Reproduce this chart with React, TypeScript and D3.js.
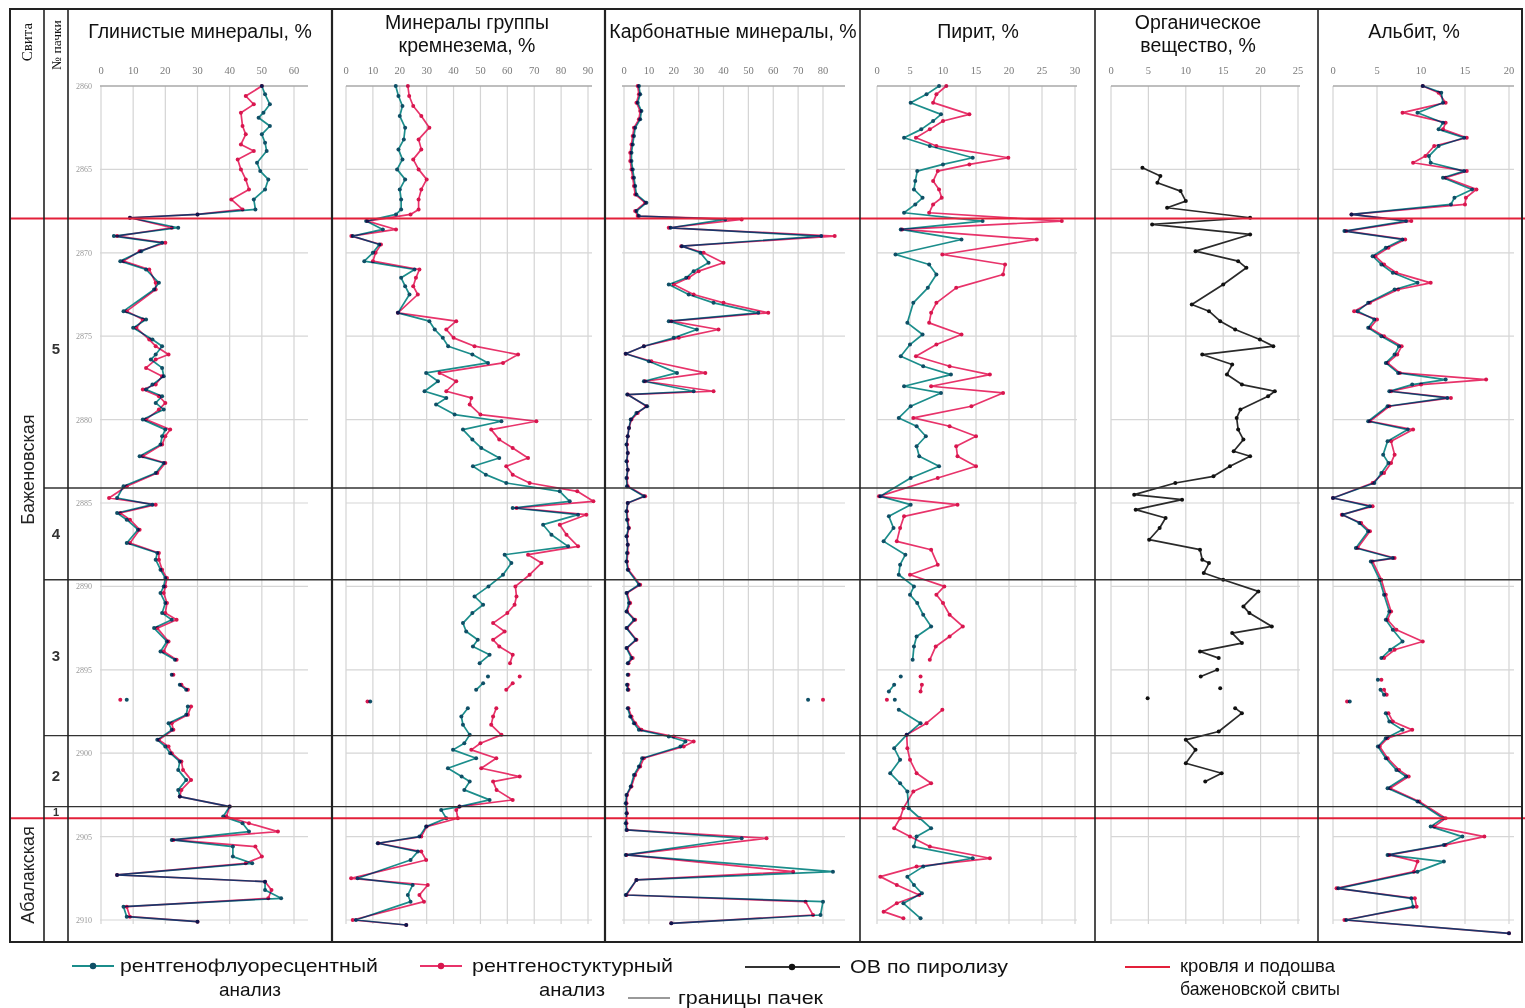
import React from "react";
import * as d3 from "d3";

type Pt = [number, number | null];
const B: Pt = [0, null];

// ---------- axes / ticks ----------
const depthTicks = [2860, 2865, 2870, 2875, 2880, 2885, 2890, 2895, 2900, 2905, 2910];
const clayTicks = [0, 10, 20, 30, 40, 50, 60];
const silicaTicks = [0, 10, 20, 30, 40, 50, 60, 70, 80, 90];
const carbTicks = [0, 10, 20, 30, 40, 50, 60, 70, 80];
const pyriteTicks = [0, 5, 10, 15, 20, 25, 30];
const obTicks = [0, 5, 10, 15, 20, 25];
const albiteTicks = [0, 5, 10, 15, 20];

// ---------- boundaries ----------
const bazhenovBounds = [2867.95, 2903.9];
const packBounds = [2884.1, 2889.6, 2898.95, 2903.2];
const formationLabels = [
  { name: "Баженовская", depth: 2883.0 },
  { name: "Абалакская", depth: 2907.3 },
];
const packLabels = [
  { name: "5", depth: 2875.7 },
  { name: "4", depth: 2886.8 },
  { name: "3", depth: 2894.1 },
  { name: "2", depth: 2901.3 },
  { name: "1", depth: 2903.55 },
];

// ---------- Clay minerals ----------
const clayXRF: Pt[] = [
  [2860.0, 50], [2860.5, 51], [2861.1, 52.5], [2861.6, 50.5], [2861.9, 49], [2862.4, 52.5], [2862.9, 50], [2863.4, 51],
  [2863.9, 51.5], [2864.6, 48.5], [2865.1, 49.5], [2865.6, 52], [2866.2, 51], [2866.8, 47.5], [2867.4, 48], [2867.7, 30],
  [2867.9, 9], [2868.5, 24], [2869.0, 4], [2869.4, 19], [2869.9, 12.5], [2870.5, 6], [2871.0, 14], [2871.8, 18],
  [2872.2, 16.5], [2873.5, 7], [2874.0, 14], [2874.5, 10], [2875.2, 16], [2875.6, 19], [2876.1, 17], [2876.4, 15.5],
  [2876.9, 19], [2877.4, 19.5], [2877.9, 16], [2878.2, 14], [2878.6, 19], [2879.0, 17], [2879.4, 19.5], [2880.0, 13],
  [2880.6, 20], [2881.0, 19], [2881.5, 18.5], [2882.2, 12], [2882.6, 19.5], [2883.2, 17], [2884.0, 7], [2884.7, 5],
  [2885.1, 16], [2885.6, 5], [2886.0, 8], [2886.6, 11.5], [2887.4, 8], [2888.0, 17.5], [2888.4, 17], [2889.0, 18.5],
  [2889.5, 20], [2890.0, 19.5], [2890.4, 18.5], [2891.0, 20], [2891.6, 19], [2892.0, 22], [2892.5, 16.5], [2893.3, 20.5],
  [2893.9, 18.5], [2894.4, 23], B, [2895.3, 22], B, [2895.9, 24.5], [2896.2, 26.5], B, [2896.8, 8], B,
  [2897.2, 27], [2897.7, 26.5], [2898.2, 21], [2898.6, 22], [2899.2, 17.5], [2899.6, 20], [2900.0, 21.5], [2900.5, 24.5],
  [2901.0, 24], [2901.6, 26.5], [2902.2, 24], [2902.6, 24.5], [2903.2, 40], [2903.8, 38], [2904.2, 44], [2904.7, 46],
  [2905.2, 22], [2905.6, 41], [2906.2, 41], [2906.6, 47], [2907.3, 5], [2907.7, 51], [2908.2, 51], [2908.7, 56],
  [2909.2, 7], [2909.8, 8], [2910.1, 30],
];
const clayXRD: Pt[] = [
  [2860.0, 50], [2860.6, 45], [2861.1, 47.5], [2861.6, 43.5], [2862.4, 44], [2862.9, 45], [2863.5, 43.5], [2863.9, 47.5],
  [2864.4, 42.5], [2865.0, 43.5], [2865.6, 45], [2866.2, 46], [2866.8, 40.5], [2867.4, 44], [2867.7, 30],
  [2867.9, 9], [2868.5, 22], [2869.0, 5], [2869.4, 20], [2869.9, 12], [2870.5, 7], [2871.0, 15], [2871.8, 17],
  [2872.2, 17], [2873.5, 8], [2874.0, 13], [2874.5, 11], [2875.2, 15], [2875.6, 17], [2876.1, 21], [2876.4, 17],
  [2876.9, 14], [2877.4, 19], [2877.9, 17], [2878.2, 13], [2878.6, 18], [2879.0, 20], [2879.4, 18], [2880.0, 14],
  [2880.6, 21.5], [2881.0, 20], [2881.5, 19], [2882.2, 13], [2882.6, 20], [2883.2, 17.5], [2884.0, 8], [2884.7, 2.5],
  [2885.1, 17], [2885.6, 6], [2886.0, 9], [2886.6, 12], [2887.4, 9], [2888.0, 18], [2888.4, 18], [2889.0, 19],
  [2889.5, 20.5], [2890.0, 20], [2890.4, 19.5], [2891.0, 20.5], [2891.6, 20], [2892.0, 23.5], [2892.5, 17.5], [2893.3, 21],
  [2893.9, 19.5], [2894.4, 23.5], B, [2895.3, 22.5], B, [2895.9, 25], [2896.2, 27], B, [2896.8, 6], B,
  [2897.2, 28], [2897.7, 27], [2898.2, 22], [2898.6, 22.5], [2899.2, 18], [2899.6, 21], [2900.0, 22], [2900.5, 25],
  [2901.0, 25.5], [2901.6, 28], [2902.2, 25], [2902.6, 24.5], [2903.2, 40], [2903.8, 39], [2904.2, 46], [2904.7, 55],
  [2905.2, 22.5], [2905.6, 48], [2906.2, 50], [2906.6, 45], [2907.3, 5], [2907.7, 51], [2908.2, 53], [2908.7, 52],
  [2909.2, 8], [2909.8, 9], [2910.1, 30],
];

// ---------- Silica group ----------
const silicaXRF: Pt[] = [
  [2860.0, 18.5], [2860.6, 19.5], [2861.2, 21], [2861.8, 20], [2862.5, 22], [2863.2, 21.5], [2863.8, 19.5], [2864.4, 21],
  [2865.0, 19], [2865.6, 22], [2866.2, 20], [2866.8, 20.5], [2867.4, 20.5], [2867.7, 18.6], [2868.1, 7.5], [2868.6, 13.7],
  [2869.0, 2.5], [2869.5, 12.4], [2870.0, 10], [2870.5, 6.8], [2871.0, 25.5], [2871.5, 20.5], [2872.0, 22], [2872.5, 23.6],
  [2873.6, 19.3], [2874.1, 31], [2874.6, 33], [2875.1, 36], [2875.6, 38], [2876.1, 47], [2876.6, 52.8], [2877.2, 29.8],
  [2877.7, 34.2], [2878.3, 29.2], [2878.7, 37.3], [2879.1, 33.5], [2879.7, 40.4], [2880.1, 57.8], [2880.6, 43.5], [2881.2, 47],
  [2881.7, 50.3], [2882.3, 57], [2882.8, 47.2], [2883.3, 52], [2883.8, 59.6], [2884.3, 79.5], [2884.9, 83.2], [2885.3, 62],
  [2885.7, 86.3], [2886.3, 73.3], [2886.9, 76.4], [2887.6, 82.6], [2888.1, 59], [2888.6, 61.5], [2889.3, 58.4], [2890.0, 53],
  [2890.6, 47.8], [2891.1, 51], [2891.6, 47], [2892.2, 43.5], [2892.7, 44.7], [2893.2, 49], [2893.6, 47.2], [2894.1, 53.4],
  [2894.6, 49.7], B, [2895.4, 52.8], B, [2895.8, 51], [2896.2, 48.4], B, [2896.9, 9], B,
  [2897.3, 45.3], [2897.8, 42.9], [2898.3, 43.5], [2898.9, 46], [2899.4, 44], [2899.8, 39.8], [2900.3, 48.4], [2900.9, 37.9],
  [2901.4, 43], [2901.7, 46], [2902.2, 44], [2902.8, 53.4], [2903.2, 42.2], [2903.4, 35.4], [2903.9, 37.3], [2904.4, 29.8],
  [2905.0, 27.3], [2905.4, 11.8], [2905.9, 26.7], [2906.4, 24], [2907.5, 4.3], [2907.9, 24.8], [2908.5, 23], [2908.9, 24],
  [2910.0, 3.7], [2910.3, 22.4],
];
const silicaXRD: Pt[] = [
  [2860.0, 23], [2860.6, 23.5], [2861.2, 25], [2861.8, 28], [2862.5, 31], [2863.2, 27], [2863.8, 28], [2864.4, 25],
  [2865.0, 27], [2865.6, 30], [2866.2, 28], [2866.8, 27], [2867.4, 27], [2867.7, 24], [2868.1, 8], [2868.6, 18.6],
  [2869.0, 2], [2869.5, 13], [2870.0, 11], [2870.5, 10], [2871.0, 27.3], [2871.5, 26], [2872.0, 25], [2872.5, 26.7],
  [2873.6, 19.3], [2874.1, 41], [2874.6, 37.3], [2875.1, 40], [2875.6, 47.8], [2876.1, 64], [2876.6, 58.4], [2877.2, 34.8],
  [2877.7, 41], [2878.3, 37.3], [2878.7, 46.6], [2879.1, 46], [2879.7, 50], [2880.1, 70.8], [2880.6, 54], [2881.2, 57],
  [2881.7, 62], [2882.3, 67.7], [2882.8, 59.6], [2883.3, 62], [2883.8, 68.3], [2884.3, 86], [2884.9, 92], [2885.3, 63.4],
  [2885.7, 89.4], [2886.3, 79.5], [2886.9, 82], [2887.6, 86.3], [2888.1, 67.7], [2888.6, 72.7], [2889.3, 68.3], [2890.0, 63],
  [2890.6, 63.4], [2891.1, 62.7], [2891.6, 60], [2892.2, 54.7], [2892.7, 59], [2893.2, 54.7], [2893.6, 57], [2894.1, 62],
  [2894.6, 61], B, [2895.4, 64.6], B, [2895.8, 62], [2896.2, 59.6], B, [2896.9, 8], B,
  [2897.3, 55.9], [2897.8, 54.7], [2898.3, 54], [2898.9, 57.8], [2899.4, 50], [2899.8, 46.6], [2900.3, 55.9], [2900.9, 50.3],
  [2901.4, 64.6], [2901.7, 54.7], [2902.2, 56], [2902.8, 62], [2903.2, 42.2], [2903.4, 41], [2903.9, 41.6], [2904.4, 30],
  [2905.0, 28], [2905.4, 12], [2905.9, 28], [2906.4, 29.8], [2907.5, 1.9], [2907.9, 30.4], [2908.5, 27.3], [2908.9, 29],
  [2910.0, 2.5], [2910.3, 22.4],
];

// ---------- Carbonate minerals ----------
const carbXRF: Pt[] = [
  [2860.0, 6], [2860.5, 6.5], [2861.0, 5.5], [2861.5, 7], [2862.0, 6.5], [2862.5, 4.5], [2863.0, 4], [2863.5, 3.5],
  [2864.0, 3], [2864.5, 3], [2865.0, 3.5], [2865.5, 4], [2866.0, 4.5], [2866.5, 5], [2867.0, 9], [2867.5, 5], [2867.8, 6],
  [2868.0, 40.7], [2868.5, 18.7], [2869.0, 79.3], [2869.6, 23.3], [2870.0, 30.7], [2870.6, 34], [2871.1, 28], [2871.5, 25],
  [2871.9, 18], [2872.5, 26], [2873.0, 36], [2873.6, 54], [2874.1, 18], [2874.6, 29.3], [2875.1, 20], [2875.6, 8],
  [2876.05, 0.7], [2876.5, 10], [2877.2, 21.3], [2877.7, 8], [2878.3, 28], [2878.5, 1.3], [2879.2, 9.3], [2879.6, 5],
  [2880.0, 2.7], [2880.5, 2], [2881.0, 1.5], [2881.5, 1], [2882.0, 1.5], [2882.5, 1], [2883.0, 1.5], [2883.5, 1],
  [2884.0, 1.2], [2884.6, 8], [2885.0, 1.5], [2885.5, 1], [2886.0, 1.2], [2886.5, 1.8], [2887.0, 1], [2887.5, 1.5],
  [2888.0, 1.2], [2888.5, 1], [2889.0, 1.5], [2889.9, 6], [2890.4, 1], [2891.0, 2], [2891.5, 1], [2892.0, 4],
  [2892.5, 1], [2893.2, 4.7], [2893.7, 1], [2894.3, 3], [2894.6, 1.5], B, [2895.3, 1.5], B, [2895.9, 1.2], [2896.2, 1.5], B,
  [2896.8, 74], B,
  [2897.3, 1.5], [2897.8, 2.5], [2898.2, 4], [2898.6, 6], [2899.0, 18], [2899.3, 24.7], [2899.6, 22.7], [2900.3, 7.3],
  [2900.8, 6], [2901.3, 4], [2902.0, 2.7], [2902.5, 1], [2903.0, 0.7], [2903.6, 1], [2904.2, 0.7], [2904.6, 1],
  [2905.1, 47.3], [2906.1, 0.7], [2907.1, 84], [2907.6, 5], [2908.5, 0.7], [2908.9, 80], [2909.7, 79], [2910.2, 19],
];
const carbXRD: Pt[] = [
  [2860.0, 5.5], [2860.5, 6], [2861.0, 5], [2861.5, 6.5], [2862.0, 6], [2862.5, 4], [2863.0, 3.5], [2863.5, 3],
  [2864.0, 2.5], [2864.5, 2.5], [2865.0, 3], [2865.5, 3.5], [2866.0, 4], [2866.5, 4.5], [2867.0, 8.5], [2867.5, 4.5], [2867.8, 5.5],
  [2868.0, 47.3], [2868.5, 18], [2869.0, 84.7], [2869.6, 23], [2870.0, 32], [2870.6, 40], [2871.1, 30], [2871.5, 26],
  [2871.9, 20], [2872.5, 28], [2873.0, 40], [2873.6, 58], [2874.1, 19], [2874.6, 38], [2875.1, 22], [2875.6, 8],
  [2876.05, 0.7], [2876.5, 11], [2877.2, 32.7], [2877.7, 8.5], [2878.3, 36], [2878.5, 1.5], [2879.2, 9], [2879.6, 5.5],
  [2880.0, 3], [2880.5, 2], [2881.0, 1.5], [2881.5, 1.2], [2882.0, 1.5], [2882.5, 1.2], [2883.0, 1.5], [2883.5, 1.2],
  [2884.0, 1.5], [2884.6, 8.5], [2885.0, 1.5], [2885.5, 1.2], [2886.0, 1.5], [2886.5, 2], [2887.0, 1.2], [2887.5, 1.5],
  [2888.0, 1.5], [2888.5, 1.2], [2889.0, 1.8], [2889.9, 6.5], [2890.4, 1.2], [2891.0, 2.5], [2891.5, 1.2], [2892.0, 4.5],
  [2892.5, 1.2], [2893.2, 5], [2893.7, 1.2], [2894.3, 3.5], [2894.6, 1.8], B, [2895.3, 1.8], B, [2895.9, 1.5], [2896.2, 1.8], B,
  [2896.8, 80], B,
  [2897.3, 1.8], [2897.8, 3], [2898.2, 4.5], [2898.6, 7], [2899.0, 20], [2899.3, 28], [2899.6, 24], [2900.3, 8],
  [2900.8, 6.5], [2901.3, 4.5], [2902.0, 3], [2902.5, 1.2], [2903.0, 1], [2903.6, 1.2], [2904.2, 1], [2904.6, 1.2],
  [2905.1, 57.3], [2906.1, 1], [2907.1, 68], [2907.6, 5], [2908.5, 1], [2908.9, 73], [2909.7, 76], [2910.2, 19],
];

// ---------- Pyrite ----------
const pyriteXRF: Pt[] = [
  [2860.0, 9.4], [2860.5, 7.5], [2861.0, 5.1], [2861.7, 9.7], [2862.1, 8.5], [2862.6, 6.7], [2863.1, 4.1], [2863.6, 8],
  [2864.3, 14.5], [2864.7, 10], [2865.1, 6.1], [2865.7, 5.8], [2866.2, 5.6], [2866.7, 6.9], [2867.1, 5.8], [2867.6, 4.1],
  [2868.1, 16], [2868.6, 3.6], [2869.2, 12.8], [2870.1, 2.8], [2870.7, 7.9], [2871.3, 9], [2872.1, 7.7], [2873.0, 5.5],
  [2874.2, 4.6], [2874.9, 6.9], [2875.5, 5], [2876.2, 3.6], [2876.8, 7], [2877.3, 11.2], [2878.0, 4.1], [2878.4, 9.7],
  [2879.2, 5.1], [2879.9, 3.3], [2880.4, 6], [2881.0, 7.4], [2881.6, 6], [2882.2, 6.4], [2882.8, 9.4], [2883.5, 5.1],
  [2884.6, 0.5], [2885.1, 5.1], [2885.8, 1.8], [2886.5, 2.5], [2887.3, 1], [2888.1, 4.3], [2888.7, 3.5], [2889.3, 3.3],
  [2890.0, 5.6], [2890.5, 5], [2891.0, 6.1], [2891.7, 7], [2892.4, 8.2], [2893.0, 6], [2893.6, 5.6], [2894.4, 5.4],
  B, [2895.4, 3.6], B, [2895.9, 2.6], [2896.3, 1.8], B, [2896.8, 2.7], B,
  [2897.4, 3.3], [2898.2, 6.6], [2898.9, 4.5], [2899.7, 2.6], [2900.4, 3.5], [2901.2, 2], [2901.8, 3.5], [2902.3, 4.6],
  [2903.3, 4.8], [2903.9, 6.5], [2904.5, 8.2], [2905.0, 6], [2905.6, 5.6], [2906.3, 14.5], [2906.8, 7], [2907.4, 4.6],
  [2907.9, 5.6], [2908.4, 6.8], [2909.0, 4], [2909.9, 6.6],
];
const pyriteXRD: Pt[] = [
  [2860.0, 10.5], [2860.5, 9], [2861.0, 8.5], [2861.7, 14], [2862.1, 10], [2862.6, 8], [2863.1, 5.9], [2863.6, 9],
  [2864.3, 19.9], [2864.7, 14], [2865.1, 9.2], [2865.7, 8.5], [2866.2, 9.4], [2866.7, 9.8], [2867.1, 8.5], [2867.6, 7.9],
  [2868.1, 28], [2868.6, 3.8], [2869.2, 24.2], [2870.1, 9.9], [2870.7, 19.4], [2871.3, 19.1], [2872.1, 12], [2873.0, 9],
  [2873.6, 8.2], [2874.2, 7.9], [2874.9, 12.8], [2875.5, 9], [2876.2, 5.9], [2876.8, 11], [2877.3, 17.1], [2878.0, 8.2],
  [2878.4, 19.1], [2879.2, 14.3], [2879.9, 5.5], [2880.4, 11], [2881.0, 15], [2881.6, 12], [2882.2, 12.2], [2882.8, 15],
  [2883.5, 9.2], [2884.6, 0.3], [2885.1, 12.2], [2885.8, 4.1], [2886.5, 3.5], [2887.3, 3], [2887.8, 8.2], [2888.7, 9.2],
  [2889.3, 5], [2890.0, 10.2], [2890.5, 9], [2891.0, 10], [2891.7, 11], [2892.4, 13], [2893.0, 11], [2893.6, 8.9],
  [2894.4, 8], B, [2895.4, 6.6], B, [2895.9, 6.8], [2896.3, 6.6], B, [2896.8, 1.5], B,
  [2897.4, 9.9], [2898.2, 7.5], [2898.9, 4.5], [2899.7, 4.6], [2900.4, 5], [2901.2, 6], [2901.8, 8.2], [2902.3, 5.5],
  [2903.3, 4], [2903.9, 3.5], [2904.5, 2.6], [2905.0, 5], [2905.6, 8], [2906.3, 17.1], [2906.8, 6], [2907.4, 0.5],
  [2907.9, 3], [2908.5, 6.4], [2909.0, 3], [2909.5, 1], [2909.9, 4],
];

// ---------- Organic matter (pyrolysis) ----------
const organicPyro: Pt[] = [
  [2864.9, 4.2], [2865.4, 6.6], [2865.8, 6.2], [2866.3, 9.3], [2866.9, 10], [2867.3, 7.5], [2867.9, 18.6], [2868.3, 5.5],
  [2868.9, 18.6], [2869.9, 11.3], [2870.5, 17], [2870.9, 18.1], [2871.9, 15], [2873.1, 10.8], [2873.5, 13.1], [2874.1, 14.6],
  [2874.6, 16.6], [2875.2, 19.9], [2875.6, 21.7], [2876.1, 12.2], [2876.7, 16.2], [2877.3, 15.5], [2877.9, 17.5], [2878.3, 21.9],
  [2878.6, 21], [2879.4, 17.3], [2879.9, 16.8], [2880.6, 17], [2881.2, 17.7], [2881.9, 16.4], [2882.2, 18.6], [2882.8, 15.9],
  [2883.4, 13.7], [2883.8, 8.6], [2884.5, 3.1], [2884.8, 9.5], [2885.4, 3.3], [2885.9, 7.3], [2886.5, 6.5], [2887.2, 5.1],
  [2887.8, 11.9], [2888.4, 12.2], [2888.6, 13.1], [2889.2, 12.4], [2889.6, 15], [2890.3, 19.7], [2891.2, 17.7], [2891.6, 18.5],
  [2892.4, 21.5], [2892.8, 16.2], [2893.4, 17.5], [2893.9, 11.9], [2894.3, 14.4], B, [2895.0, 14.2], [2895.4, 12], B,
  [2896.1, 14.6], B, [2896.7, 4.9], B, [2897.3, 16.6], [2897.6, 17.5], [2898.7, 14.4], [2899.2, 10], [2899.8, 11.3],
  [2900.6, 10], [2901.2, 14.8], [2901.7, 12.6],
];

// ---------- Albite ----------
const albiteXRF: Pt[] = [
  [2860.0, 10.2], [2860.4, 12.3], [2861.0, 12.5], [2861.6, 9.6], [2862.2, 12.5], [2862.6, 12], [2863.1, 14.9], [2863.6, 12],
  [2864.2, 10.9], [2864.6, 11.1], [2865.1, 14.9], [2865.5, 12.5], [2866.2, 15.8], [2866.7, 13.8], [2867.1, 13.4], [2867.7, 2.1],
  [2868.1, 8.3], [2868.7, 1.3], [2869.2, 7.9], [2869.7, 6], [2870.2, 4.5], [2870.7, 5.5], [2871.2, 6.8], [2871.8, 9.6],
  [2872.2, 7], [2873.0, 4], [2873.5, 2.8], [2874.0, 4.7], [2874.5, 4], [2875.0, 5.5], [2875.6, 7.5], [2876.1, 7],
  [2876.6, 6], [2877.2, 7.4], [2877.6, 12.8], [2877.9, 9], [2878.3, 6.4], [2878.7, 13], [2879.2, 6.2], [2880.1, 4],
  [2880.6, 8.5], [2881.3, 6.2], [2882.1, 5.7], [2882.6, 6.3], [2883.2, 5.5], [2883.8, 4.7], [2884.7, 0], [2885.2, 4.2],
  [2885.7, 1.1], [2886.2, 3], [2886.7, 4], [2887.7, 2.6], [2888.3, 6.8], [2888.5, 4.3], [2889.6, 5.3], [2890.5, 5.8],
  [2891.5, 6.4], [2892.0, 6], [2892.6, 6.8], [2893.3, 7.9], [2893.8, 6.5], [2894.3, 5.5], B, [2895.6, 5.1], B,
  [2896.2, 5.4], [2896.5, 5.8], B, [2896.9, 1.9], B, [2897.6, 6], [2898.1, 6.4], [2898.6, 7.9], [2899.1, 6],
  [2899.6, 5.1], [2900.3, 6], [2901.0, 7.2], [2901.4, 8.3], [2902.1, 6.2], [2902.9, 9.6], [2903.9, 12.5], [2904.4, 11.1],
  [2905.0, 14.7], [2905.5, 12.6], [2906.1, 6.2], [2906.5, 12.6], [2907.1, 9.6], [2908.1, 0.6], [2908.7, 8.9], [2909.2, 9.1],
  [2910.0, 1.5], [2910.8, 20],
];
const albiteXRD: Pt[] = [
  [2860.0, 10.2], [2860.4, 12], [2861.0, 12.8], [2861.6, 7.9], [2862.2, 12.8], [2862.6, 12.5], [2863.1, 15.2], [2863.6, 11.5],
  [2864.2, 10.5], [2864.6, 9.1], [2865.1, 15.2], [2865.5, 12.8], [2866.2, 16.3], [2866.7, 15.1], [2867.1, 15], [2867.7, 2.1],
  [2868.1, 8.9], [2868.7, 1.5], [2869.2, 8.2], [2869.7, 6.3], [2870.2, 4.8], [2870.7, 5.8], [2871.2, 7.2], [2871.8, 11.1],
  [2872.2, 7.4], [2873.0, 4.2], [2873.5, 2.4], [2874.0, 5], [2874.5, 4.2], [2875.0, 5.8], [2875.6, 7.8], [2876.1, 7.3],
  [2876.6, 6.2], [2877.2, 7.6], [2877.6, 17.4], [2877.9, 10], [2878.3, 6.6], [2878.7, 13.4], [2879.2, 6.4], [2880.1, 4.2],
  [2880.6, 9.1], [2881.3, 6.6], [2882.1, 7], [2882.6, 6.6], [2883.2, 5.8], [2883.8, 4.5], [2884.7, 0], [2885.2, 4.5],
  [2885.7, 1], [2886.2, 3.2], [2886.7, 4.2], [2887.7, 2.8], [2888.3, 7], [2888.5, 4.5], [2889.6, 5.5], [2890.5, 6],
  [2891.5, 6.6], [2892.0, 6.2], [2892.6, 7.2], [2893.3, 10.2], [2893.8, 7], [2894.3, 5.8], B, [2895.6, 5.5], B,
  [2896.2, 5.8], [2896.5, 6.1], B, [2896.9, 1.6], B, [2897.6, 6.3], [2898.1, 6.8], [2898.6, 9], [2899.1, 6.2],
  [2899.6, 5.3], [2900.3, 6.2], [2901.0, 7.5], [2901.4, 8.6], [2902.1, 6.5], [2902.9, 9.8], [2903.9, 12.8], [2904.4, 11.5],
  [2905.0, 17.2], [2905.5, 12.8], [2906.1, 6.4], [2906.5, 9.6], [2907.1, 9.2], [2908.1, 0.4], [2908.7, 9.3], [2909.2, 9.5],
  [2910.0, 1.3], [2910.8, 20],
];

// ---------- styles ----------
const TEAL = "#1b8d8b";
const TEAL_DOT = "#0f4f66";
const RED = "#e8336a";
const RED_DOT = "#d8164e";
const BOUND_RED = "#e3203a";
const SANS = "'Liberation Sans', Arial, sans-serif";
const SERIF = "'Liberation Serif', 'DejaVu Serif', serif";

type Series = { data: Pt[]; stroke: string; dot: string; blend?: boolean };
type Panel = {
  left: number; right: number; x0: number; x1: number; gl: number; gr: number;
  title: string[]; tx: number; ticks: number[]; series: Series[];
};

const panels: Panel[] = [
  { left: 68, right: 332, x0: 101, x1: 294, gl: 100, gr: 308, title: ["Глинистые минералы, %"], tx: 200, ticks: clayTicks,
    series: [{ data: clayXRF, stroke: TEAL, dot: TEAL_DOT }, { data: clayXRD, stroke: RED, dot: RED_DOT, blend: true }] },
  { left: 332, right: 605, x0: 346, x1: 588, gl: 346, gr: 592, title: ["Минералы группы", "кремнезема, %"], tx: 467, ticks: silicaTicks,
    series: [{ data: silicaXRF, stroke: TEAL, dot: TEAL_DOT }, { data: silicaXRD, stroke: RED, dot: RED_DOT, blend: true }] },
  { left: 605, right: 860, x0: 624, x1: 823, gl: 622, gr: 845, title: ["Карбонатные минералы, %"], tx: 733, ticks: carbTicks,
    series: [{ data: carbXRF, stroke: TEAL, dot: TEAL_DOT }, { data: carbXRD, stroke: RED, dot: RED_DOT, blend: true }] },
  { left: 860, right: 1095, x0: 877, x1: 1075, gl: 877, gr: 1077, title: ["Пирит, %"], tx: 978, ticks: pyriteTicks,
    series: [{ data: pyriteXRF, stroke: TEAL, dot: TEAL_DOT }, { data: pyriteXRD, stroke: RED, dot: RED_DOT, blend: true }] },
  { left: 1095, right: 1318, x0: 1111, x1: 1298, gl: 1111, gr: 1300, title: ["Органическое", "вещество, %"], tx: 1198, ticks: obTicks,
    series: [{ data: organicPyro, stroke: "#2a2a2a", dot: "#111" }] },
  { left: 1318, right: 1522, x0: 1333, x1: 1509, gl: 1333, gr: 1514, title: ["Альбит, %"], tx: 1414, ticks: albiteTicks,
    series: [{ data: albiteXRF, stroke: TEAL, dot: TEAL_DOT }, { data: albiteXRD, stroke: RED, dot: RED_DOT, blend: true }] },
];

const TOP = 9;
const BOTTOM = 942;
const FRAME_L = 10;
const FRAME_R = 1522;

function PanelView({ p, y }: { p: Panel; y: d3.ScaleLinear<number, number> }) {
  const dom = [0, p.ticks[p.ticks.length - 1]];
  const x = d3.scaleLinear().domain(dom).range([p.x0, p.x1]);
  const line = d3
    .line<Pt>()
    .defined((d) => d[1] !== null)
    .x((d) => x(d[1] as number))
    .y((d) => y(d[0]));
  const yTop = y(depthTicks[0]);
  const yBot = y(depthTicks[depthTicks.length - 1]) + 4;
  return (
    <g>
      {p.ticks.map((t) => (
        <line key={"v" + t} x1={x(t)} x2={x(t)} y1={yTop} y2={yBot} stroke="#d4d4d4" strokeWidth={1.2} />
      ))}
      {depthTicks.map((d, i) => (
        <line key={"h" + d} x1={p.gl} x2={p.gr} y1={y(d)} y2={y(d)} stroke={i === 0 ? "#a8a8a8" : "#d6d6d6"} strokeWidth={i === 0 ? 1.6 : 1.2} />
      ))}
      {p.ticks.map((t) => (
        <text key={"t" + t} x={x(t)} y={74} fontFamily={SERIF} fontSize={10.5} fill="#7a7a7a" textAnchor="middle">{t}</text>
      ))}
      {p.title.length === 1 ? (
        <text x={p.tx} y={38} fontFamily={SANS} fontSize={19.5} textAnchor="middle" fill="#111">{p.title[0]}</text>
      ) : (
        p.title.map((s, i) => (
          <text key={s} x={p.tx} y={29 + i * 23} fontFamily={SANS} fontSize={19.5} textAnchor="middle" fill="#111">{s}</text>
        ))
      )}
      {p.series.map((s, si) => (
        <g key={si} style={s.blend ? { mixBlendMode: "darken" } : undefined}>
          <path d={line(s.data) || ""} fill="none" stroke={s.stroke} strokeWidth={1.7} strokeLinejoin="round" />
          {s.data.filter((d) => d[1] !== null).map((d, i) => (
            <circle key={i} cx={x(d[1] as number)} cy={y(d[0])} r={2} fill={s.dot} />
          ))}
        </g>
      ))}
    </g>
  );
}

function LegendText({ x, y, w, anchor, children }: { x: number; y: number; w: number; anchor?: string; children: string }) {
  return (
    <text x={x} y={y} textLength={w} lengthAdjust="spacingAndGlyphs" textAnchor={anchor || "start"}>{children}</text>
  );
}

export default function App() {
  const y = d3.scaleLinear().domain([2860, 2910]).range([86, 920]);
  return (
    <svg width={1525} height={1008} style={{ position: "absolute", left: 0, top: 0, background: "#fff" }}>
      <rect x={0} y={0} width={1525} height={1008} fill="#fff" />
      {panels.map((p, i) => (
        <PanelView key={i} p={p} y={y} />
      ))}
      {depthTicks.map((d) => (
        <text key={d} x={92} y={y(d) + 3} fontFamily={SERIF} fontSize={8} fill="#999" textAnchor="end">{d}</text>
      ))}
      {packBounds.map((d) => (
        <line key={d} x1={44} x2={FRAME_R} y1={y(d)} y2={y(d)} stroke="#333" strokeWidth={1.3} />
      ))}
      {bazhenovBounds.map((d) => (
        <line key={d} x1={FRAME_L} x2={1525} y1={y(d)} y2={y(d)} stroke={BOUND_RED} strokeWidth={2} />
      ))}
      <rect x={FRAME_L} y={TOP} width={FRAME_R - FRAME_L} height={BOTTOM - TOP} fill="none" stroke="#222" strokeWidth={2} />
      {[44, 68, 332, 605, 860, 1095, 1318].map((xv) => (
        <line key={xv} x1={xv} x2={xv} y1={TOP} y2={BOTTOM} stroke="#222" strokeWidth={xv === 332 || xv === 605 ? 2.2 : 1.6} />
      ))}
      <text transform={`translate(32,42) rotate(-90)`} fontFamily={SERIF} fontSize={15} textAnchor="middle" fill="#111">Свита</text>
      <text transform={`translate(61,45) rotate(-90)`} fontFamily={SERIF} fontSize={13.5} textAnchor="middle" fill="#111">№ пачки</text>
      {formationLabels.map((f) => (
        <text key={f.name} transform={`translate(34,${y(f.depth)}) rotate(-90)`} fontFamily={SANS} fontSize={18} textAnchor="middle" fill="#222">{f.name}</text>
      ))}
      {packLabels.map((pk) => (
        <text key={pk.name} x={56} y={y(pk.depth) + (pk.name === "1" ? 4 : 6)} fontFamily={SANS} fontSize={pk.name === "1" ? 11 : 15} fontWeight="bold" textAnchor="middle" fill="#333">{pk.name}</text>
      ))}
      <g fontFamily={SANS} fontSize={19} fill="#111">
        <line x1={72} x2={114} y1={966} y2={966} stroke={TEAL} strokeWidth={2} />
        <circle cx={93} cy={966} r={3.2} fill={TEAL_DOT} />
        <LegendText x={120} y={972} w={258}>рентгенофлуоресцентный</LegendText>
        <LegendText x={250} y={996} w={62} anchor="middle">анализ</LegendText>

        <line x1={420} x2={462} y1={966} y2={966} stroke={RED} strokeWidth={2} />
        <circle cx={441} cy={966} r={3.2} fill={RED_DOT} />
        <LegendText x={472} y={972} w={201}>рентгеностуктурный</LegendText>
        <LegendText x={572} y={996} w={66} anchor="middle">анализ</LegendText>

        <line x1={628} x2={670} y1={998} y2={998} stroke="#999" strokeWidth={2} />
        <LegendText x={678} y={1004} w={145}>границы пачек</LegendText>

        <line x1={745} x2={840} y1={967} y2={967} stroke="#333" strokeWidth={2} />
        <circle cx={792} cy={967} r={3.2} fill="#111" />
        <LegendText x={850} y={973} w={158}>ОВ по пиролизу</LegendText>

        <line x1={1125} x2={1170} y1={967} y2={967} stroke={BOUND_RED} strokeWidth={2} />
        <LegendText x={1180} y={972} w={155}>кровля и подошва</LegendText>
        <LegendText x={1260} y={995} w={160} anchor="middle">баженовской свиты</LegendText>
      </g>
    </svg>
  );
}
